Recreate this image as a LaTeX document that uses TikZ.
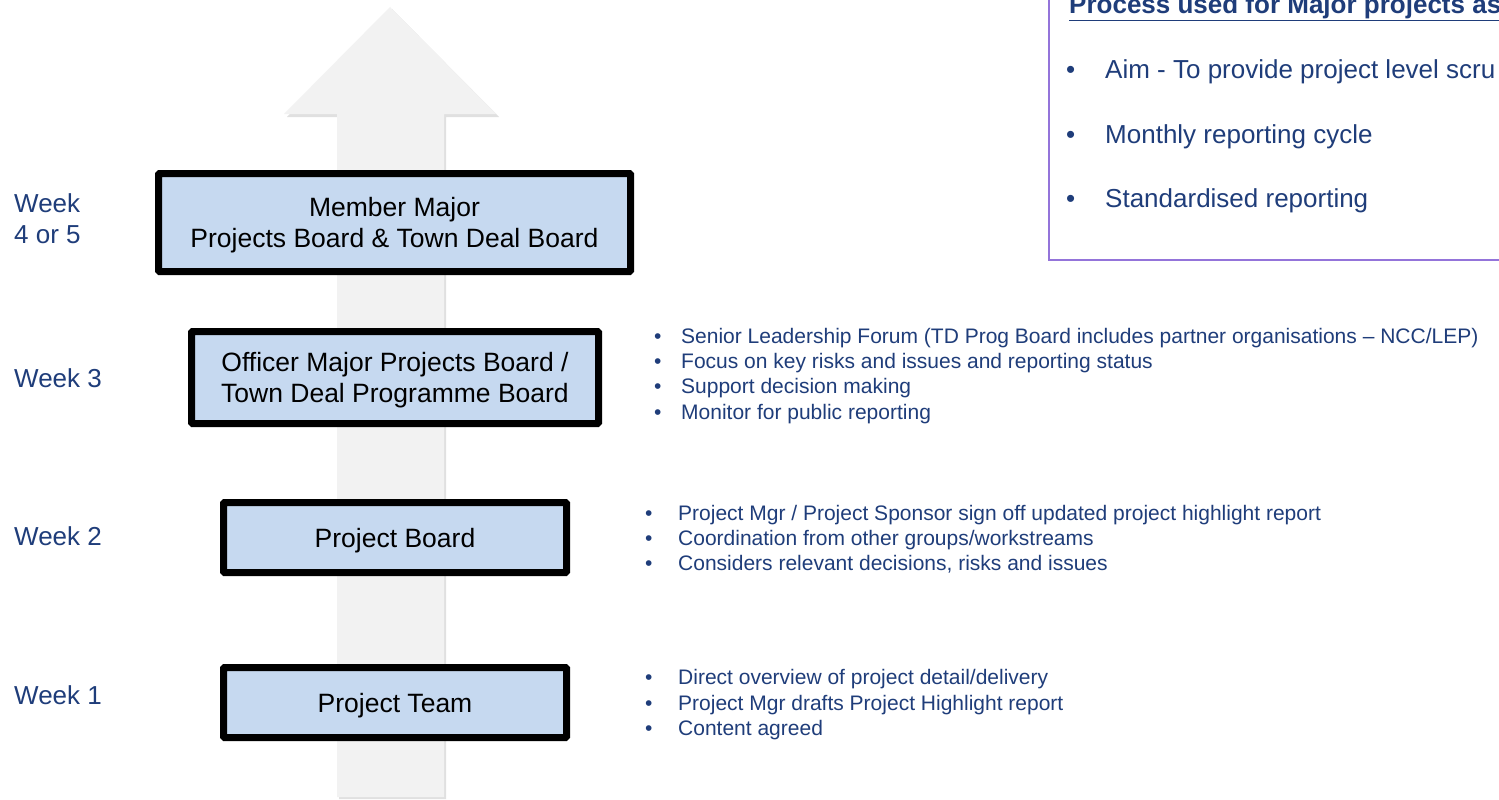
\documentclass[tikz,border=0pt]{standalone}
\usepackage{fontspec}
\setmainfont{Liberation Sans}
\usetikzlibrary{shadows}
\definecolor{navy}{HTML}{1F3D7A}
\definecolor{boxblue}{HTML}{C6D9F0}
\definecolor{lilac}{HTML}{9474DA}
\definecolor{arrowgrey}{HTML}{F2F2F2}
\tikzset{
  board/.style={draw=black, line width=7pt, fill=boxblue, rounded corners=1pt,
    align=center, inner sep=0pt, text depth=0pt, font=\fontsize{26.5}{31}\selectfont,
    drop shadow={shadow xshift=2pt, shadow yshift=-3pt, opacity=.25}},
  week/.style={anchor=base west, text=navy, align=left, inner sep=0pt, font=\fontsize{26}{31}\selectfont},
  point/.style={anchor=base west, text=navy, font=\fontsize{21}{25}\selectfont, inner sep=0pt},
  bigpoint/.style={anchor=base west, text=navy, font=\fontsize{26}{31}\selectfont, inner sep=0pt}
}
\begin{document}
\begin{tikzpicture}[x=1pt, y=-1pt]
\useasboundingbox (0,0) rectangle (1499,800);
\clip (0,0) rectangle (1499,800);
\fill[white] (0,0) rectangle (1499,800);
% big arrow behind the boards
\fill[black!12] (339,799)--(339,117)--(287,117)--(392,9)--(499,117)--(446,117)--(446,799)--cycle;
\fill[arrowgrey] (337,797)--(337,114)--(284,114)--(390,7)--(496,114)--(444,114)--(444,797)--cycle;
% boards
\node[board, minimum width=472pt, minimum height=98pt] (member) at (394.5,222.5)
  {Member Major\\Projects Board \& Town Deal Board};
\node[board, minimum width=407pt, minimum height=92pt] (officer) at (395,377.5)
  {Officer Major Projects Board /\\Town Deal Programme Board};
\node[board, minimum width=343pt, minimum height=70pt] (pboard) at (395,537.5) {Project Board};
\node[board, minimum width=343pt, minimum height=70pt] (pteam) at (395,702.5) {Project Team};
% weeks
\node[week] (w45) at (14,243) {Week\\4 or 5};
\node[week] (w3) at (14,387) {Week 3};
\node[week] (w2) at (14,545) {Week 2};
\node[week] (w1) at (14,704) {Week 1};
% process box
\draw[lilac, line width=2pt] (1049,-20) rectangle (1520,260);
\node[anchor=base west, text=navy, inner sep=0pt, font=\fontsize{26}{31}\selectfont\bfseries] (ptitle) at (1069,13.5)
  {\underline{Process used for Major projects as}};
\foreach \y/\t [count=\i] in {78/Aim - To provide project level scru, 143/Monthly reporting cycle, 207/Standardised reporting}{
  \node[bigpoint] (pb\i) at (1066,\y) {•};
  \node[bigpoint] (pt\i) at (1105,\y) {\t};
}
% officer board notes
\foreach \y/\t [count=\i] in {343/{Senior Leadership Forum (TD Prog Board includes partner organisations – NCC/LEP)},
  368/Focus on key risks and issues and reporting status, 393/Support decision making, 419/Monitor for public reporting}{
  \node[point] (ob\i) at (654,\y) {•};
  \node[point] (ot\i) at (681,\y) {\t};
}
% project board notes
\foreach \y/\t [count=\i] in {520/{Project Mgr / Project Sponsor sign off updated project highlight report},
  545/{Coordination from other groups/workstreams}, 570/{Considers relevant decisions, risks and issues}}{
  \node[point] (bb\i) at (645,\y) {•};
  \node[point] (bt\i) at (678,\y) {\t};
}
% project team notes
\foreach \y/\t [count=\i] in {684/{Direct overview of project detail/delivery},
  710/Project Mgr drafts Project Highlight report, 735/Content agreed}{
  \node[point] (tb\i) at (645,\y) {•};
  \node[point] (tt\i) at (678,\y) {\t};
}
\end{tikzpicture}
\end{document}
